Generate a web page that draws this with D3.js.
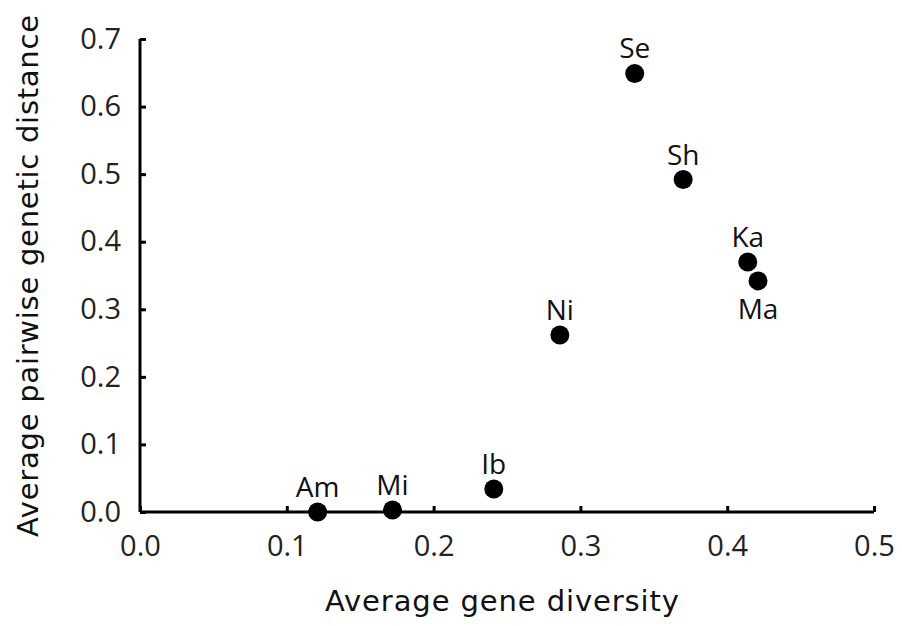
<!DOCTYPE html>
<html>
<head>
<meta charset="utf-8">
<script src="https://cdn.jsdelivr.net/npm/d3@7"></script>
<style>
  body { margin: 0; background: #fff; }
</style>
</head>
<body>
<div id="chart-area"></div>
<script>
// data
var sites = ["Am", "Mi", "Ib", "Ni", "Se", "Sh", "Ka", "Ma"];
var geneDiversity = [0.121, 0.172, 0.241, 0.286, 0.337, 0.370, 0.414, 0.421];
var geneticDistance = [0.000, 0.003, 0.034, 0.262, 0.649, 0.492, 0.370, 0.342];
var labelBelow = ["Ma"];
var xTicks = [0, 0.1, 0.2, 0.3, 0.4, 0.5];
var yTicks = [0, 0.1, 0.2, 0.3, 0.4, 0.5, 0.6, 0.7];

var margin = { left: 140, right: 28, top: 39, bottom: 114 };
var totalW = 902, totalH = 626;
var width = totalW - margin.left - margin.right,
    height = totalH - margin.top - margin.bottom;

var labelFont = "'Open Sans', sans-serif",
    titleFont = "'DejaVu Sans', sans-serif";

var svg = d3.select("#chart-area")
    .append("svg")
        .attr("width", totalW)
        .attr("height", totalH);
var g = svg.append("g")
    .attr("transform", "translate(" + margin.left + "," + margin.top + ")");

// Scales
var x = d3.scaleLinear().domain([0, 0.5]).range([0, width]);
var y = d3.scaleLinear().domain([0, 0.7]).range([height, 0]);

// Axes, ticks point inward
var xAxis = g.append("g")
    .attr("transform", "translate(0," + height + ")")
    .call(d3.axisBottom(x).tickValues(xTicks).tickSize(-6).tickPadding(0)
        .tickFormat(d3.format(".1f")));
var yAxis = g.append("g")
    .call(d3.axisLeft(y).tickValues(yTicks).tickSize(-6).tickPadding(19)
        .tickFormat(d3.format(".1f")));

xAxis.select(".domain").attr("d", "M0,0H" + width);
yAxis.select(".domain").attr("d", "M0,0V" + height);
[xAxis, yAxis].forEach(function(ax) {
    ax.attr("font-size", null).attr("font-family", null);
    ax.select(".domain").attr("stroke", "#000").attr("stroke-width", 3);
    ax.selectAll(".tick line").attr("stroke", "#000").attr("stroke-width", 3);
    ax.selectAll(".tick text")
        .attr("font-family", labelFont)
        .attr("font-size", 29)
        .attr("fill", "#222");
});
xAxis.selectAll(".tick text").attr("y", 44).attr("dy", 0);

// Labels
g.append("text")
    .attr("x", width / 2 - 5)
    .attr("y", height + 99)
    .attr("font-family", titleFont)
    .attr("font-size", 29)
    .attr("text-anchor", "middle")
    .attr("textLength", 354)
    .attr("lengthAdjust", "spacing")
    .attr("fill", "#111")
    .text("Average gene diversity");
g.append("text")
    .attr("transform", "rotate(-90)")
    .attr("x", -(276 - margin.top))
    .attr("y", -margin.left + 38)
    .attr("font-family", titleFont)
    .attr("font-size", 29)
    .attr("text-anchor", "middle")
    .attr("textLength", 522)
    .attr("lengthAdjust", "spacing")
    .attr("fill", "#111")
    .text("Average pairwise genetic distance");

var points = sites.map(function(s, i) {
    return { site: s, gd: geneDiversity[i], dist: geneticDistance[i] };
});

g.selectAll("circle.pt").data(points).enter()
    .append("circle")
    .attr("class", "pt")
    .attr("cx", function(d) { return x(d.gd); })
    .attr("cy", function(d) { return y(d.dist); })
    .attr("r", 9.5)
    .attr("fill", "#000");

g.selectAll("text.lbl").data(points).enter()
    .append("text")
    .attr("class", "lbl")
    .attr("x", function(d) { return x(d.gd); })
    .attr("y", function(d) {
        return labelBelow.indexOf(d.site) >= 0 ? y(d.dist) + 38 : y(d.dist) - 15;
    })
    .attr("font-family", labelFont)
    .attr("font-size", 28)
    .attr("text-anchor", "middle")
    .attr("fill", "#111")
    .text(function(d) { return d.site; });
</script>
</body>
</html>
